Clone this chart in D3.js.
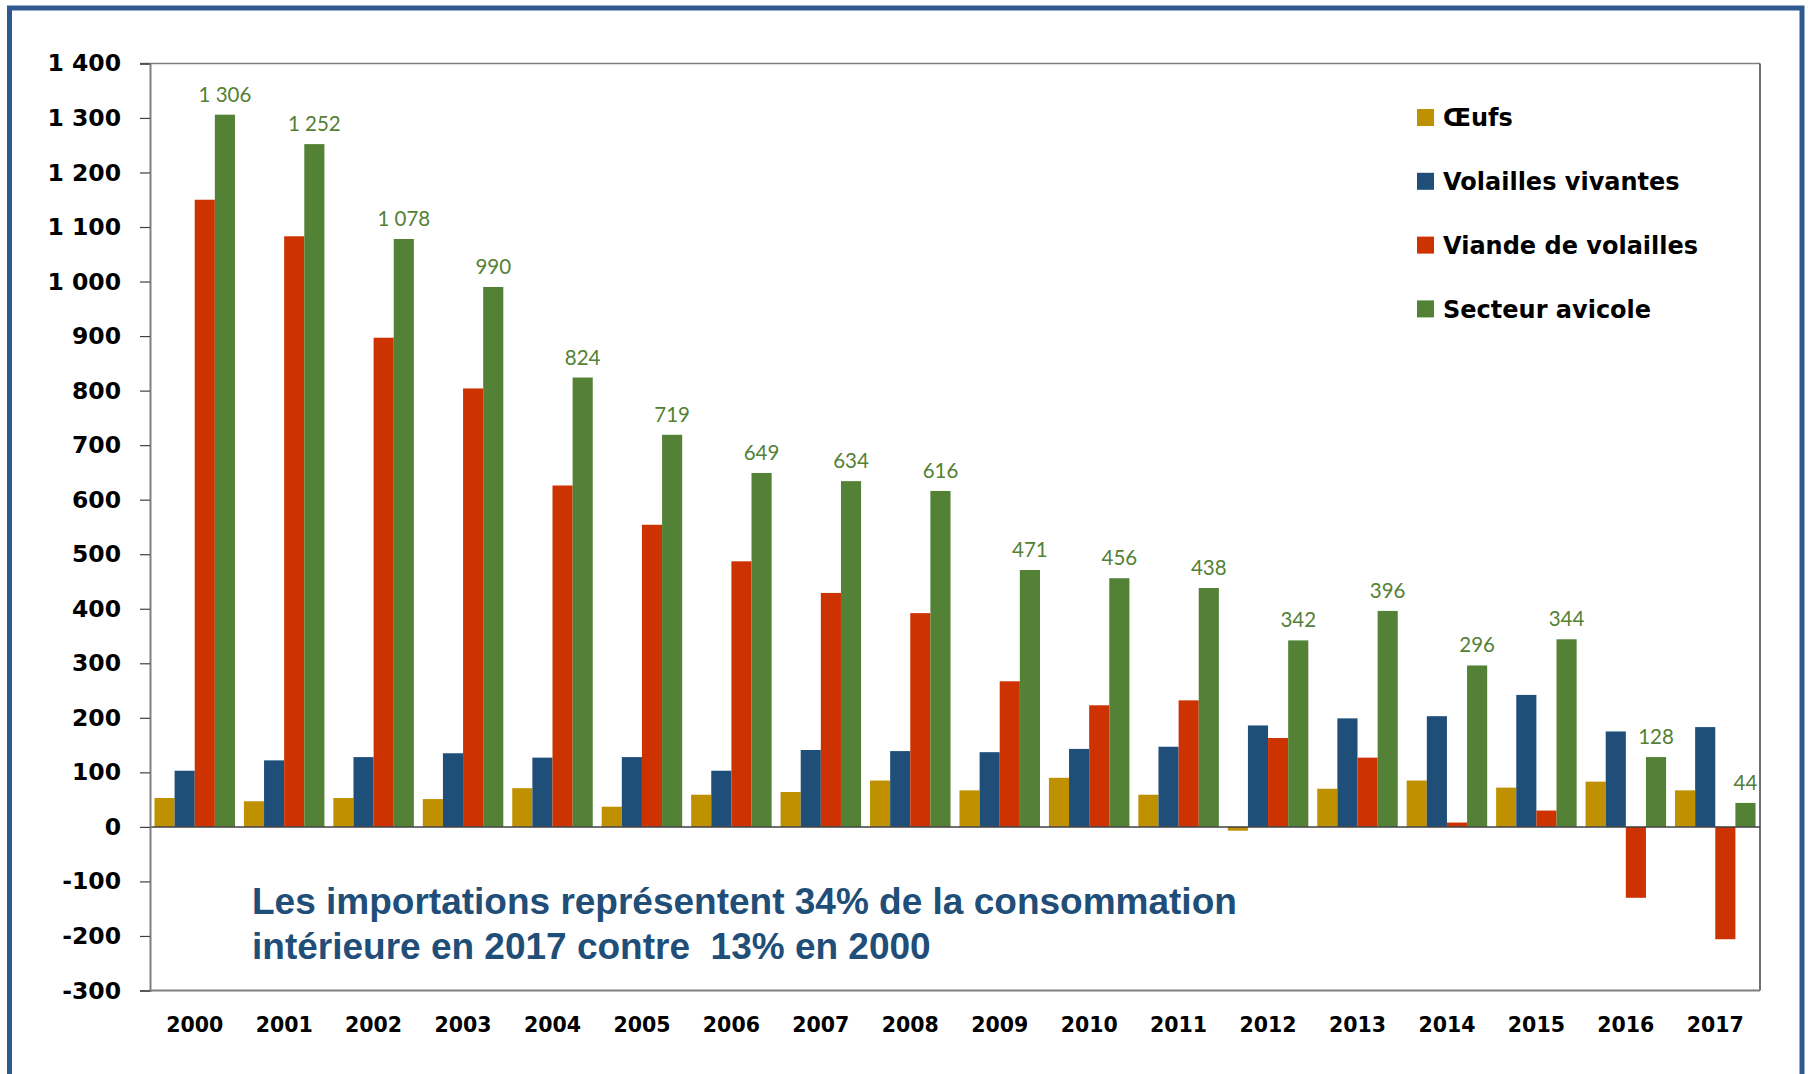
<!DOCTYPE html>
<html><head><meta charset="utf-8">
<script src="https://cdn.jsdelivr.net/npm/d3@7"></script>
<style>
html,body{margin:0;padding:0;background:#fff;}
svg{display:block;}
</style></head>
<body>
<svg id="chart" width="1808" height="1074"></svg>
<script>
const years = ["2000","2001","2002","2003","2004","2005","2006","2007","2008","2009","2010","2011","2012","2013","2014","2015","2016","2017"];
const oeufs = [53,47,53,51,71,37,59,64,85,67,90,59,-7,70,85,72,83,67];
const volaillesVivantes = [103,122,128,135,127,128,103,141,139,137,143,147,186,199,203,242,175,183];
const viandeVolailles = [1150,1083,897,804,626,554,487,429,392,267,223,232,163,127,8,30,-130,-206];
const secteurAvicole = [1306,1252,1078,990,824,719,649,634,616,471,456,438,342,396,296,344,128,44];
const seriesNames = ["Œufs","Volailles vivantes","Viande de volailles","Secteur avicole"];
const seriesColors = ["#BF9000","#1F4E79","#CC3300","#538135"];
const yTicks = [-300,-200,-100,0,100,200,300,400,500,600,700,800,900,1000,1100,1200,1300,1400];
const noteLines = ["Les importations représentent 34% de la consommation","intérieure en 2017 contre  13% en 2000"];

(function(){
const seriesValues = [oeufs, volaillesVivantes, viandeVolailles, secteurAvicole];
const svg = d3.select("#chart");
const W = 1808, H = 1074;
const pL = 150, pR = 1760, pT = 63.4, pB = 990.5;
const boldFont = "'DejaVu Sans', Verdana, sans-serif";

svg.append("rect").attr("x",0).attr("y",0).attr("width",W).attr("height",H).attr("fill","#fff");
// outer frame
svg.append("rect").attr("x",9.5).attr("y",8).attr("width",1792.5).attr("height",1120)
  .attr("fill","none").attr("stroke","#2F5A8F").attr("stroke-width",5);

const y = d3.scaleLinear().domain([-300,1400]).range([pB, pT]);
const x = d3.scaleBand().domain(years).range([pL,pR]).paddingInner(0.1).paddingOuter(0.05);
const xs = d3.scaleBand().domain(d3.range(4)).range([0, x.bandwidth()]).padding(0);

const loc = d3.formatLocale({decimal:",", thousands:" ", grouping:[3], currency:["",""], minus:"-"});
const fmt = loc.format(",d");

// plot frame (top & right)
svg.append("line").attr("x1",pL-10).attr("x2",pR).attr("y1",pT).attr("y2",pT).attr("stroke","#7F7F7F").attr("stroke-width",1.5);
svg.append("line").attr("x1",pR).attr("x2",pR).attr("y1",pT).attr("y2",pB).attr("stroke","#404040").attr("stroke-width",1.5);
svg.append("line").attr("x1",pL).attr("x2",pR).attr("y1",pB).attr("y2",pB).attr("stroke","#7F7F7F").attr("stroke-width",2);

// bars
const g = svg.append("g");
seriesValues.forEach((vals, si) => {
  g.selectAll(null).data(years).enter().append("rect")
    .attr("x", d => x(d) + xs(si))
    .attr("width", xs.bandwidth())
    .attr("y", (d,i) => y(Math.max(0, vals[i])))
    .attr("height", (d,i) => Math.abs(y(vals[i]) - y(0)))
    .attr("fill", seriesColors[si]);
});

// zero line
svg.append("line").attr("x1",pL).attr("x2",pR).attr("y1",y(0)).attr("y2",y(0)).attr("stroke","#404040").attr("stroke-width",1.5);

// y axis
const yAxis = svg.append("g").attr("transform",`translate(${pL},0)`)
  .call(d3.axisLeft(y).tickValues(yTicks).tickSize(10).tickPadding(19).tickFormat(fmt));
yAxis.select(".domain").attr("stroke","#7F7F7F").attr("stroke-width",2);
yAxis.selectAll(".tick line").attr("stroke","#404040").attr("stroke-width",1.2);
yAxis.selectAll(".tick text").attr("fill","#000").attr("font-family",boldFont)
  .attr("font-weight",700).attr("font-size",23.5);

// x axis labels
const xAxis = svg.append("g").attr("transform",`translate(0,${pB})`)
  .call(d3.axisBottom(x).tickSize(0).tickPadding(0));
xAxis.select(".domain").remove();
xAxis.selectAll(".tick text").attr("fill","#000").attr("font-family",boldFont)
  .attr("font-weight",700).attr("font-size",20.5).attr("dy",0).attr("y",41);

// data labels for secteur avicole
svg.append("g").selectAll("text").data(years).enter().append("text")
  .attr("x", d => x(d) + xs(3) + xs.bandwidth()/2)
  .attr("y", (d,i) => y(secteurAvicole[i]) - 13)
  .attr("text-anchor","middle")
  .attr("fill","#538135").attr("font-family","Lato, 'Open Sans', sans-serif").attr("font-size",20.5)
  .text((d,i) => fmt(secteurAvicole[i]));

// legend
const lg = svg.append("g");
seriesNames.forEach((n,i) => {
  const cy = 117.5 + i*63.8;
  lg.append("rect").attr("x",1417).attr("y",cy-8.5).attr("width",17).attr("height",17).attr("fill",seriesColors[i]);
  lg.append("text").attr("x",1443).attr("y",cy).attr("dy","0.36em")
    .attr("font-family",boldFont).attr("font-weight",700).attr("font-size",24).attr("fill","#000").text(n);
});

// note
const note = svg.append("g");
noteLines.forEach((t,i) => {
  note.append("text").attr("x",252).attr("y",914 + i*45).attr("xml:space","preserve")
    .attr("font-family","'Liberation Sans Narrow','Arial Narrow','Liberation Sans',sans-serif")
    .attr("font-weight",700).attr("font-size",37).attr("fill","#1F4E79").text(t);
});
})();
</script>
</body></html>
